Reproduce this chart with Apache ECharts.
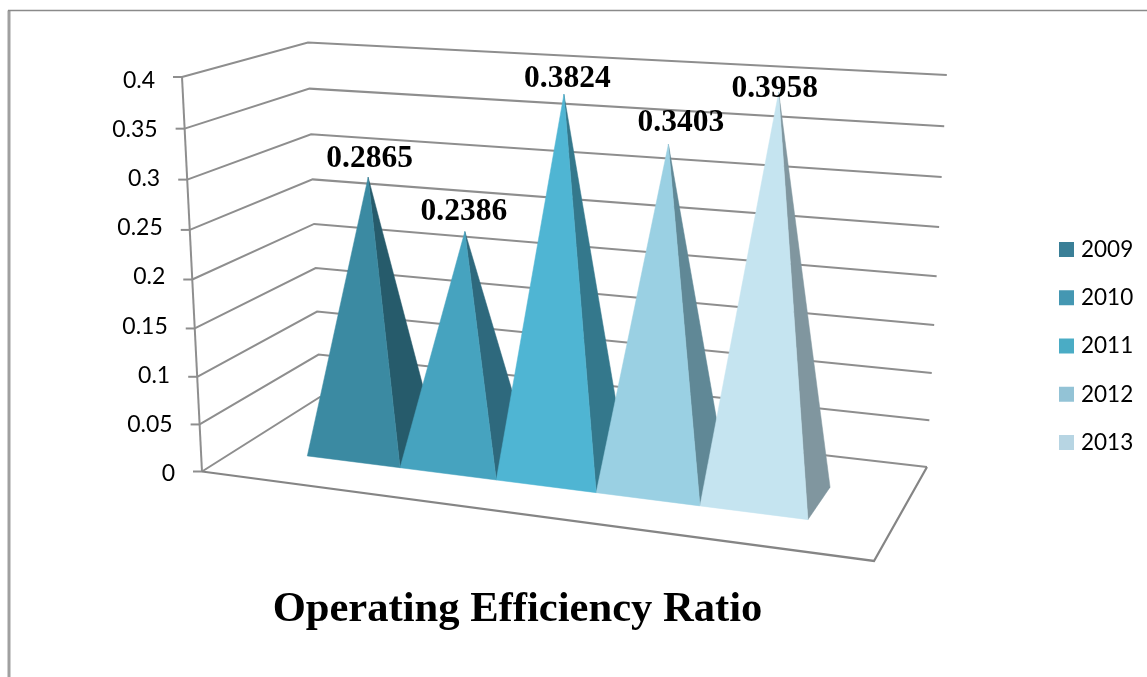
<!DOCTYPE html>
<html>
<head>
<meta charset="utf-8">
<style>html,body{margin:0;padding:0;background:#fff}#chart{width:1147px;height:677px}</style>
<script src="https://cdn.jsdelivr.net/npm/echarts@6/dist/echarts.min.js"></script>
</head>
<body>
<div id="chart"></div>
<script>
// Chart data
const years = ['2009', '2010', '2011', '2012', '2013'];
const ratios = [0.2865, 0.2386, 0.3824, 0.3403, 0.3958];
const tickValues = [0, 0.05, 0.1, 0.15, 0.2, 0.25, 0.3, 0.35, 0.4];
const tickLabels = ['0', '0.05', '0.1', '0.15', '0.2', '0.25', '0.3', '0.35', '0.4'];

// Face colours for each year
const frontColors = ['#3b8aa2', '#46a3bf', '#4fb5d3', '#9ad0e3', '#c5e4f0'];
const sideColors = ['#265b6b', '#2e697d', '#34788c', '#608896', '#80969f'];
const legendColors = ['#3a7f97', '#4497b2', '#4aacc5', '#93c3d6', '#b7d5e3'];

// Data label offsets from each apex, in pixels
const labelShift = [[1.5, -18], [-1, -20], [3.5, -15], [12.5, -21], [-4, -3]];

// Perspective camera: (u, v, h) in the unit box -> screen.
// u runs along the front edge, v goes front to back, h is value / axis max.
const CAM = {
  A: [567.2, 22.2, -0.11991],
  B: [155.6, -27.8, 0.11755],
  C: [-29.46, -398.5, -0.052],
  D: [202, 471.5, 1],
  shear: 3.52
};
function project(u, v, h) {
  const px = u * CAM.A[0] + v * CAM.B[0] + h * CAM.C[0] + CAM.D[0];
  const py = u * CAM.A[1] + v * CAM.B[1] + h * CAM.C[1] + CAM.D[1] + u * h * CAM.shear;
  const w = u * CAM.A[2] + v * CAM.B[2] + h * CAM.C[2] + CAM.D[2];
  return [px / w, py / w];
}

// Footprint of the pyramid row on the floor
const ROW_MARGIN = 0.115;
const ROW_FRONT = 0.3;
const ROW_BACK = 0.655;
const APEX_DEPTH = 0.5;

const LINE = { stroke: '#8e8e8e', lineWidth: 2, fill: null };
const line = (points, extra) => ({
  type: 'polyline',
  shape: { points },
  style: Object.assign({}, LINE, extra)
});

// Height of a value on the unit box, read through the y axis scale
function heightOf(api, params, value) {
  const grid = params.coordSys;
  return (grid.y + grid.height - api.coord([years[0], value])[1]) / grid.height;
}

function renderFrame(params, api) {
  const h = heightOf(api, params, api.value(1));
  const front = project(0, 0, h);
  const corner = project(0, 1, h);
  const far = project(1, 1, h);
  const children = [
    line([[front[0] - 9, front[1]], front]),
    line([front, corner, far])
  ];
  if (params.dataIndex === 0) {
    children.push(line([project(0, 0, 0), project(0, 0, 1)]));
    children.push(line([project(0, 0, 0), project(1, 0, 0), project(1, 1, 0)], { stroke: '#858585', lineWidth: 2.2 }));
  }
  return { type: 'group', children };
}

function renderPyramid(params, api) {
  const idx = params.seriesIndex - 1;
  const grid = params.coordSys;
  const value = api.value(1);
  const cx = api.coord([api.value(0), value])[0];
  const band = api.size([1, 0])[0];
  const span = 1 - 2 * ROW_MARGIN;
  const toU = (x) => ROW_MARGIN + span * (x - grid.x) / grid.width;
  const u0 = toU(cx - band / 2);
  const u1 = toU(cx + band / 2);
  const uc = toU(cx);
  const apex = project(uc, APEX_DEPTH, heightOf(api, params, value));
  const fl = project(u0, ROW_FRONT, 0);
  const fr = project(u1, ROW_FRONT, 0);
  const br = project(u1, ROW_BACK, 0);
  const shift = labelShift[idx];
  return {
    type: 'group',
    children: [
      { type: 'polygon', shape: { points: [fr, br, apex] },
        style: { fill: sideColors[idx], stroke: sideColors[idx], lineWidth: 0.5 } },
      { type: 'polygon', shape: { points: [fl, fr, apex] },
        style: { fill: frontColors[idx], stroke: frontColors[idx], lineWidth: 0.5 } },
      { type: 'text', z2: 50,
        style: {
          text: value.toFixed(4),
          x: apex[0] + shift[0], y: apex[1] + shift[1],
          fill: '#000',
          font: 'bold 31.5px "Liberation Serif"',
          textAlign: 'center', textVerticalAlign: 'middle'
        } }
    ]
  };
}

// Axis labels follow the slanted axis, so each one gets its own right padding
const LABEL_EDGE = project(0, 0, 0)[0];
const labelRich = {};
tickValues.forEach((t, i) => {
  labelRich['t' + i] = {
    fontFamily: 'Lato', fontSize: 23, color: '#000',
    padding: [0, Math.max(0, LABEL_EDGE - project(0, 0, t / 0.4)[0]), 0, 0]
  };
});

const option = {
  animation: false,
  backgroundColor: '#fff',
  title: {
    text: 'Operating Efficiency Ratio',
    left: 512.5, top: 583, textAlign: 'center',
    textStyle: { fontFamily: 'Liberation Serif', fontWeight: 'bold', fontSize: 42.6, color: '#000' }
  },
  legend: {
    orient: 'vertical',
    left: 1054, top: 233,
    itemWidth: 15, itemHeight: 15, itemGap: 25.25,
    icon: 'rect',
    data: years.map((name, i) => ({ name, itemStyle: { color: legendColors[i] } })),
    textStyle: { fontFamily: 'Lato', fontSize: 22.5, color: '#000', padding: [0, 0, 0, 2] },
    selectedMode: false
  },
  grid: { left: 202, top: 80.5, height: 393, width: 672, containLabel: false },
  xAxis: { type: 'category', data: years, show: false },
  yAxis: {
    type: 'value', min: 0, max: 0.4, interval: 0.05,
    axisLine: { show: false }, axisTick: { show: false }, splitLine: { show: false },
    axisLabel: {
      margin: 27,
      formatter: (v, i) => `{t${i}|${tickLabels[i]}}`,
      rich: labelRich
    }
  },
  series: [
    {
      type: 'custom', name: 'frame', silent: true, clip: false, z: 1,
      renderItem: renderFrame,
      encode: { x: 0, y: 1 },
      data: tickValues.map((t) => [years[0], t])
    }
  ].concat(years.map((name, i) => ({
    type: 'custom', name, clip: false, z: 2 + i,
    renderItem: renderPyramid,
    encode: { x: 0, y: 1 },
    itemStyle: { color: legendColors[i] },
    data: [[name, ratios[i]]]
  }))),
  graphic: [
    { type: 'polyline', silent: true, z: 0,
      shape: { points: [[9, 677], [9, 10.5]] }, style: { stroke: '#a0a0a0', lineWidth: 3, fill: null } },
    { type: 'polyline', silent: true, z: 0,
      shape: { points: [[8, 10.5], [1147, 10.5]] }, style: { stroke: '#8a8a8a', lineWidth: 1.5, fill: null } }
  ]
};

echarts.init(document.getElementById('chart'), null, { renderer: 'canvas' }).setOption(option);
</script>
</body>
</html>
